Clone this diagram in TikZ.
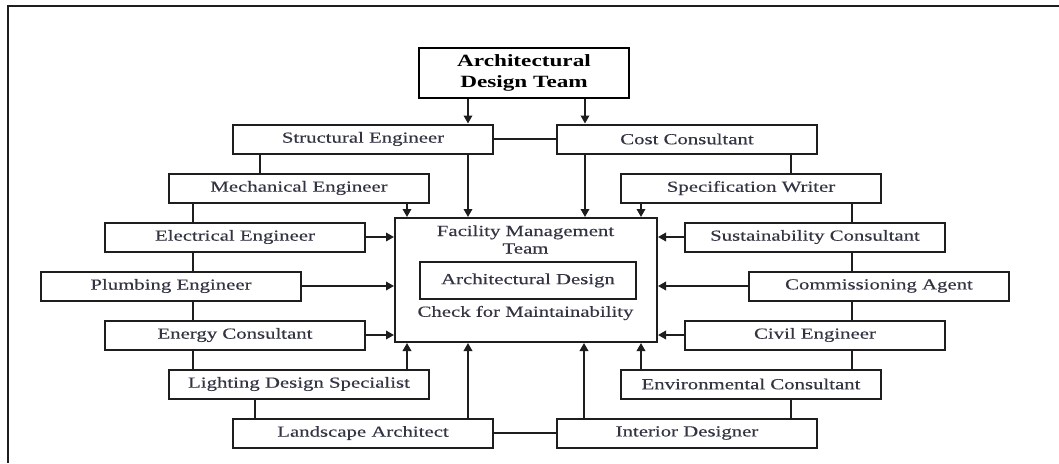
\documentclass[tikz,border=0pt]{standalone}
\usepackage{fontspec}
\setmainfont{Liberation Serif}[FakeStretch=1.35, UprightFeatures={FakeBold=0.3}]
\usetikzlibrary{arrows.meta, positioning}
\definecolor{LineGray}{RGB}{30, 30, 30}
\definecolor{TextGray}{RGB}{50, 52, 66}

\begin{document}
\begin{tikzpicture}[
    x=1pt, y=-1pt,
    node distance=18pt,
    every node/.style={font=\fontsize{15.4}{17.5}\selectfont, text=TextGray, align=center},
    box/.style={draw=LineGray, line width=2pt, minimum width=260pt,
                minimum height=29pt, inner sep=2pt},
    lead/.style={draw=black, line width=2pt, minimum width=210pt, minimum height=50pt,
                 font=\fontsize{17.2}{20.3}\selectfont\bfseries, text=black},
    link/.style={LineGray, line width=1.8pt},
    arr/.style={link, -{Triangle[length=8pt, width=8.5pt]}}
]
\useasboundingbox (0,0) rectangle (1059,463);
\draw[line width=2.2pt, LineGray] (1059,6) -- (8,6) -- (8,463);

\node[lead] (team) at (524,73) {Architectural\\Design Team};

\node[box, minimum width=262pt, minimum height=124pt] (fac) at (526,280) {};
\node (fmt) at (525.5,239.5) {Facility Management\\Team};
\node[box, minimum width=216pt, minimum height=37pt] (ad) at (528,280.5) {Architectural Design};
\node (chk) at (525.5,313) {Check for Maintainability};

\node[box] (struct) at (363,139) {Structural Engineer};
\node[box, below=of struct, xshift=-64pt] (mech) {Mechanical Engineer};
\node[box, below=of mech, xshift=-64pt] (elec) {Electrical Engineer};
\node[box, below=of elec, xshift=-64pt] (plumb) {Plumbing Engineer};
\node[box, below=of plumb, xshift=64pt] (energy) {Energy Consultant};
\node[box, below=of energy, xshift=64pt] (light) {Lighting Design Specialist};
\node[box, below=of light, xshift=64pt] (land) {Landscape Architect};

\node[box] (cost) at (687,139) {Cost Consultant};
\node[box, below=of cost, xshift=64pt] (spec) {Specification Writer};
\node[box, below=of spec, xshift=64pt] (sust) {Sustainability Consultant};
\node[box, below=of sust, xshift=64pt] (comm) {Commissioning Agent};
\node[box, below=of comm, xshift=-64pt] (civil) {Civil Engineer};
\node[box, below=of civil, xshift=-64pt] (env) {Environmental Consultant};
\node[box, below=of env, xshift=-64pt] (inter) {Interior Designer};

\draw[arr] ([xshift=105pt]struct.north |- team.south) -- ([xshift=105pt]struct.north);
\draw[arr] ([xshift=-102pt]cost.north |- team.south) -- ([xshift=-102pt]cost.north);
\draw[link] (struct.east) -- (cost.west);
\draw[link] (land.east) -- (inter.west);

\draw[arr] ([xshift=105pt]struct.south) -- ([xshift=105pt]struct.south |- fac.north);
\draw[arr] ([xshift=-102pt]cost.south) -- ([xshift=-102pt]cost.south |- fac.north);
\draw[arr] ([xshift=108pt]mech.south) -- ([xshift=108pt]mech.south |- fac.north);
\draw[arr] ([xshift=-110pt]spec.south) -- ([xshift=-110pt]spec.south |- fac.north);

\draw[arr] (elec.east) -- (elec.east -| fac.west);
\draw[arr] (plumb.east) -- (plumb.east -| fac.west);
\draw[arr] (energy.east) -- (energy.east -| fac.west);
\draw[arr] (sust.west) -- (sust.west -| fac.east);
\draw[arr] (comm.west) -- (comm.west -| fac.east);
\draw[arr] (civil.west) -- (civil.west -| fac.east);

\draw[arr] ([xshift=108pt]light.north) -- ([xshift=108pt]light.north |- fac.south);
\draw[arr] ([xshift=105pt]land.north) -- ([xshift=105pt]land.north |- fac.south);
\draw[arr] ([xshift=-103pt]inter.north) -- ([xshift=-103pt]inter.north |- fac.south);
\draw[arr] ([xshift=-110pt]env.north) -- ([xshift=-110pt]env.north |- fac.south);

\draw[link] ([xshift=-39pt]mech.north) -- ([xshift=-39pt]mech.north |- struct.south);
\draw[link] ([xshift=-42pt]elec.north) -- ([xshift=-42pt]elec.north |- mech.south);
\draw[link] ([xshift=-42pt]elec.south) -- ([xshift=-42pt]elec.south |- plumb.north);
\draw[link] ([xshift=-42pt]energy.north) -- ([xshift=-42pt]energy.north |- plumb.south);
\draw[link] ([xshift=-42pt]energy.south) -- ([xshift=-42pt]energy.south |- light.north);
\draw[link] ([xshift=-44pt]light.south) -- ([xshift=-44pt]light.south |- land.north);

\draw[link] ([xshift=40pt]spec.north) -- ([xshift=40pt]spec.north |- cost.south);
\draw[link] ([xshift=37pt]sust.north) -- ([xshift=37pt]sust.north |- spec.south);
\draw[link] ([xshift=37pt]sust.south) -- ([xshift=37pt]sust.south |- comm.north);
\draw[link] ([xshift=37pt]civil.north) -- ([xshift=37pt]civil.north |- comm.south);
\draw[link] ([xshift=37pt]civil.south) -- ([xshift=37pt]civil.south |- env.north);
\draw[link] ([xshift=40pt]env.south) -- ([xshift=40pt]env.south |- inter.north);
\end{tikzpicture}
\end{document}
